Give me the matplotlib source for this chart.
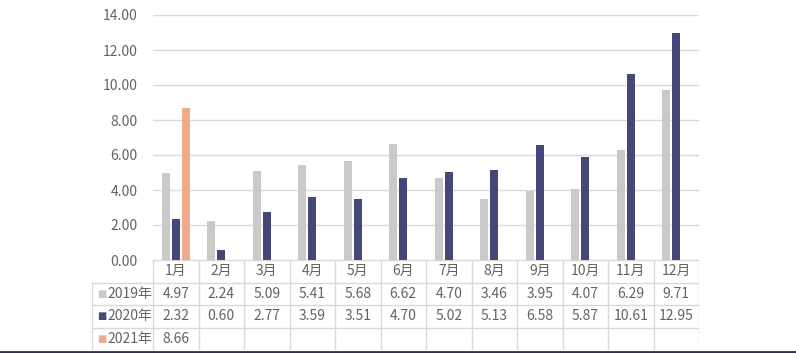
import numpy as np
import matplotlib.pyplot as plt
from matplotlib.lines import Line2D

plt.rcParams['font.family'] = ['Noto Sans CJK SC', 'DejaVu Sans']
plt.rcParams['font.weight'] = 'light'

months = ['1月', '2月', '3月', '4月', '5月', '6月', '7月', '8月', '9月', '10月', '11月', '12月']
series_names = ['2019年', '2020年', '2021年']
v2019 = [4.97, 2.24, 5.09, 5.41, 5.68, 6.62, 4.70, 3.46, 3.95, 4.07, 6.29, 9.71]
v2020 = [2.32, 0.60, 2.77, 3.59, 3.51, 4.70, 5.02, 5.13, 6.58, 5.87, 10.61, 12.95]
v2021 = [8.66]
yticks = [0, 2, 4, 6, 8, 10, 12, 14]

colors = ['#C9C9C9', '#424877', '#EFAA8C']
text_c = '#636363'
grid_c = '#D9D9D9'

W, H = 796, 353
fig = plt.figure(figsize=(W / 100, H / 100), dpi=100)

# main chart area (pixel layout)
x0, x1 = 153, 699
y_top, y_zero = 15, 260
ax = fig.add_axes([x0 / W, (H - y_zero) / H, (x1 - x0) / W, (y_zero - y_top) / H])

x = np.arange(len(months))
bw = 0.18
off = 0.22
data = [v2019, v2020, v2021]
for k, vals in enumerate(data):
    ax.bar(x[:len(vals)] + (k - 1) * off, vals, width=bw, color=colors[k], zorder=3)

ax.set_xlim(-0.5, len(months) - 0.5)
ax.set_ylim(0, 14)
ax.set_yticks(yticks)
ax.set_yticklabels(['%.2f' % t for t in yticks], color=text_c, fontsize=10)
ax.tick_params(axis='y', length=0, pad=11)
ax.set_xticks([])
for s in ax.spines.values():
    s.set_visible(False)
ax.grid(axis='y', color=grid_c, lw=1, zorder=0)

# data table below the chart
tl = 92
t_bot = 350
tax = fig.add_axes([tl / W, (H - t_bot) / H, (x1 - tl) / W, (t_bot - y_zero) / H])
cat_w = (x1 - x0) / len(months)
left_x = -0.5 - (x0 - tl) / cat_w
tax.set_xlim(left_x, len(months) - 0.5)
tax.set_ylim(4, 0)
tax.axis('off')

line_kw = dict(color=grid_c, lw=1)
# horizontal lines
tax.plot([-0.5, len(months) - 0.5], [0, 0], **line_kw)
for r in [1, 2, 3]:
    tax.plot([left_x, len(months) - 0.5], [r, r], **line_kw)
# vertical lines
tax.plot([left_x, left_x], [1, 4], **line_kw)
for i in range(len(months) + 1):
    tax.plot([i - 0.5, i - 0.5], [0, 4], **line_kw)

for i, m in enumerate(months):
    tax.text(i, 0.5, m, ha='center', va='center', color=text_c, fontsize=10)
for k, vals in enumerate(data):
    r = k + 1.5
    tax.text(left_x + 0.12, r, '■', ha='left', va='center', color=colors[k],
             fontsize=7, family=['DejaVu Sans'], fontweight='normal')
    tax.text(left_x + 0.33, r, series_names[k], ha='left', va='center', color=text_c, fontsize=10)
    for i, v in enumerate(vals):
        tax.text(i, r, '%.2f' % v, ha='center', va='center', color=text_c, fontsize=10)

# dark bottom border of the picture
fig.add_artist(Line2D([0, 1], [1.5 / H, 1.5 / H], transform=fig.transFigure,
                      color='#2E3150', lw=2))

fig.savefig('out.png', dpi=100)
